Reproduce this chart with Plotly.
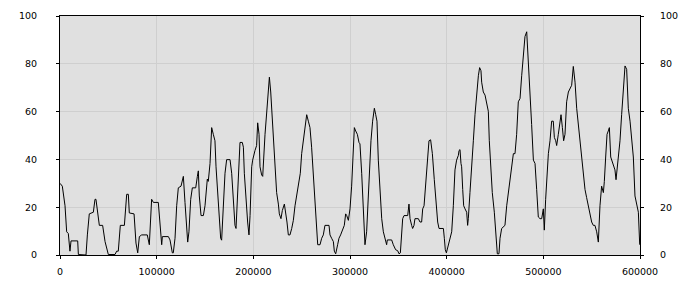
import plotly.graph_objects as go

x_vals = [0, 1000, 2400, 5200, 6900, 8600, 10300, 11400, 18300, 19000, 26900, 28300, 30300, 34500, 36200, 37200,
          38600, 40700, 44100, 46600, 50000, 56900, 58600, 60300, 62400, 66600, 69000, 70700, 71700, 76600,
          78600, 80400, 82100, 84500, 90300, 92400, 94800, 96600, 101700,
          103400, 105200, 105900, 112100, 113800, 116200, 117200, 119000, 120700, 122400, 125200, 127600,
          129300, 131000, 132100, 133400, 135200, 136900, 140400, 142100, 143100, 144100, 145900, 148300,
          150000, 152400, 153400, 155200, 156900, 158600, 160300, 161400, 163800, 166200, 167200, 169000,
          170700, 172400, 175900, 177600, 179300, 181000, 182100, 182800, 184500, 186200, 188600, 189700,
          190700, 192100, 194100, 195500, 196600, 198300, 199300, 201700,
          203400, 204500, 205900, 206900, 208600, 209700, 211000, 212100, 213800, 215500, 216600, 218000,
          219700, 221400, 223100, 224100, 225900, 226900, 228600, 230000, 232100, 233400, 234800, 236200,
          237900, 239700, 241400, 243100, 245500, 247200, 248600, 250000, 251700, 253400, 255200, 256900,
          258600, 260300, 262100, 263800, 265500, 266600, 269000, 270700, 272400, 274100, 278300, 279300,
          281000, 282800, 283800, 285200, 287200, 288600, 290300, 292100, 294100, 295500, 296600, 298300,
          300000, 301700, 303400, 304500, 305900, 307600, 309300, 310300, 312100, 313800, 314800,
          315500, 317200, 318300, 320000, 321700, 323400, 325200, 326600, 327900, 329300, 331000, 332800,
          334500, 336200, 337900, 338600, 343100, 344800, 347200, 349300, 350700, 352100, 353400, 354500,
          355900, 359700, 361000, 362100, 363800, 364800, 366200, 367200, 370700, 372400, 374100, 375200,
          376600, 378300, 380000, 381700, 383400, 385200, 387200, 389000, 390700, 392100, 396600, 397600,
          398600, 399700, 401000, 403400, 405200, 406900, 408600, 410300, 412100, 412800, 413800, 414800,
          415500, 416600, 417600,
          419000, 420700, 421700, 422400, 424100, 425900, 427600, 429300, 431000, 432800, 434100, 435500,
          436200, 437900, 439700, 441400, 443100, 444100, 445900, 447200, 449300, 451000, 452400, 454100,
          455200, 456900, 460300, 462100, 463800, 465500, 467200, 469000, 470700, 472400, 474100, 475900,
          477600, 479300, 481000, 482800, 484500, 486200, 487900, 489700, 491400, 493100, 494800, 496600,
          498300, 500000, 501000, 502400, 503800, 505200, 506900, 508600, 510300, 511400, 512800, 513800,
          515500, 517200, 518300, 519700, 521000, 522400,
          524100, 525900, 527600, 529300, 531000, 532800, 534500, 536200, 537900, 539700, 541400, 543100,
          544800, 546600, 548300, 550000, 551700, 553400, 555200, 556900, 558600, 560300, 562100, 563100,
          564500, 565900, 567200, 568300, 569700, 570700, 572400, 574100, 575200, 576600, 577600, 579300,
          581000, 582800, 584500, 586200, 587900, 589700, 591400, 593100, 594800, 596600, 598300, 599700]

y_vals = [30.0, 29.5, 28.8, 20.6, 9.7, 9.0, 1.6, 5.9, 5.9, 0.2, 0.0, 8.4, 17.2, 17.9, 23.3, 23.3,
          17.9, 12.4, 12.4, 5.6, 0.2, 0.2, 1.6, 1.6, 12.4, 12.4, 25.4, 25.4, 17.6, 17.2,
          5.0, 0.9, 7.7, 8.4, 8.4, 4.3, 23.3, 22.0, 22.0,
          13.8, 4.3, 7.7, 7.7, 6.3, 0.9, 0.9, 7.0, 20.6, 28.1, 28.8, 32.9,
          22.0, 13.8, 5.4, 9.7, 23.3, 28.1, 28.1, 32.9, 35.2, 24.7, 16.5, 16.5,
          20.6, 31.8, 30.8, 38.3, 53.3, 50.5, 47.8, 36.9, 23.3, 7.0, 6.2, 20.6,
          34.2, 39.9, 39.9, 34.2, 22.0, 12.4, 11.1, 17.9, 34.2, 47.1, 47.1, 45.1,
          34.2, 23.3, 13.8, 8.4, 16.5, 36.9, 39.7, 43.7,
          45.8, 55.3, 50.5, 36.9, 33.5, 32.9, 43.7, 50.5, 59.4, 71.0, 74.4, 68.2,
          56.0, 42.4, 31.5, 26.1, 21.3, 17.2, 15.2, 18.6, 21.3, 17.9, 13.8, 8.4,
          8.4, 11.1, 14.5, 20.6, 27.4, 31.5, 34.2, 42.4, 47.8, 53.3, 58.7, 56.0,
          53.3, 45.1, 34.2, 19.3, 9.7, 4.3, 4.3, 7.0, 8.4, 12.4, 12.4, 8.4,
          7.0, 5.6, 1.6, 0.5, 4.3, 7.0, 8.4, 10.4, 12.4, 17.2, 16.5, 14.5,
          19.3, 28.8, 41.0, 53.3, 51.9, 50.5, 47.1, 46.5, 34.2, 20.6, 8.4,
          4.3, 9.7, 20.6, 34.2, 47.8, 56.0, 61.4, 58.7, 56.0, 39.7, 27.4, 15.2,
          9.7, 7.0, 4.3, 6.3, 6.3, 4.3, 2.2, 1.8, 0.5, 0.9, 7.0, 15.2,
          16.5, 16.5, 21.3, 15.2, 12.4, 11.1, 12.4, 15.2, 15.2, 13.8, 13.8, 19.3,
          20.6, 30.1, 39.7, 47.8, 48.2, 42.4, 31.5, 23.3, 13.8, 11.1, 11.1, 7.0,
          2.2, 0.9, 2.9, 7.0, 9.7, 20.6, 35.6, 39.7, 41.7, 43.7, 44.1, 38.3,
          36.9, 27.4, 20.6,
          19.3, 17.9, 12.4, 15.2, 26.1, 39.7, 47.8, 58.7, 68.2, 75.0, 78.4, 77.1,
          72.3, 68.2, 66.9, 64.1, 60.1, 47.8, 34.2, 26.1, 17.9, 9.7, 0.5, 0.5,
          7.0, 11.1, 12.4, 20.6, 26.1, 31.5, 36.9, 42.4, 42.4, 50.5, 64.1, 65.5,
          75.0, 84.6, 91.4, 93.4, 81.8, 68.2, 54.6, 39.7, 38.3, 27.4, 15.9, 15.2,
          15.2, 19.3, 10.4, 23.3, 35.6, 42.4, 47.8, 56.0, 56.0, 49.2, 47.8, 45.8,
          50.5, 56.0, 58.7, 53.3, 47.8, 50.5,
          64.1, 68.2, 69.6, 71.0, 78.9, 72.3, 61.4, 54.6, 47.8, 39.7, 32.9, 27.4,
          24.0, 20.6, 16.5, 13.8, 12.4, 12.4, 9.7, 5.4, 20.6, 28.8, 26.1, 30.8,
          41.0, 50.5, 51.9, 53.3, 41.0, 39.7, 38.3, 35.6, 31.5, 36.9, 39.7, 47.8,
          58.7, 68.2, 79.1, 77.7, 61.4, 56.0, 47.8, 41.0, 24.7, 20.6, 17.9, 4.3]

x_ticks = [0, 100000, 200000, 300000, 400000, 500000, 600000]
y_ticks = [0, 20, 40, 60, 80, 100]

font = dict(family="DejaVu Sans", size=9.5, color="#000000")

fig = go.Figure()
fig.add_trace(go.Scatter(x=x_vals, y=y_vals, mode="lines",
                         line=dict(color="#000000", width=1), hoverinfo="skip"))
fig.add_trace(go.Scatter(x=x_vals, y=y_vals, mode="lines", yaxis="y2",
                         line=dict(color="rgba(0,0,0,0)", width=1), hoverinfo="skip"))

fig.update_layout(
    width=700, height=300,
    margin=dict(l=60, r=60, t=10, b=45),
    paper_bgcolor="#ffffff", plot_bgcolor="#e0e0e0",
    showlegend=False, font=font,
    xaxis=dict(range=[0, 600000], tickvals=x_ticks, ticktext=[str(v) for v in x_ticks],
               showgrid=True, gridcolor="#cfcfcf", gridwidth=1, zeroline=False,
               showline=True, linecolor="#000000", linewidth=1, mirror=True,
               ticks="outside", ticklen=3, tickcolor="#000000", tickfont=font,
               ticklabelstandoff=5),
    yaxis=dict(range=[0, 100], tickvals=y_ticks, showgrid=True, gridcolor="#cfcfcf", gridwidth=1,
               zeroline=False, showline=True, linecolor="#000000", linewidth=1, mirror=True,
               ticks="outside", ticklen=3, tickcolor="#000000", tickfont=font,
               ticklabelstandoff=17),
    yaxis2=dict(range=[0, 100], tickvals=y_ticks, overlaying="y", side="right", showgrid=False,
                zeroline=False, showline=True, linecolor="#000000", linewidth=1,
                ticks="outside", ticklen=3, tickcolor="#000000", tickfont=font,
                ticklabelstandoff=14),
)

fig.write_html("out.html")
